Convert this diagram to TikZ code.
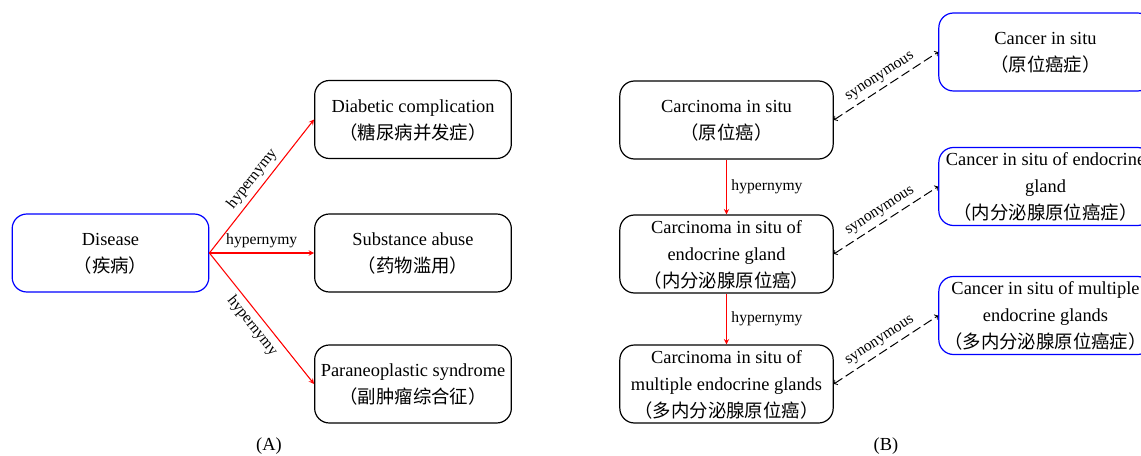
\documentclass[tikz,border=0pt]{standalone}
\usepackage{fontspec}
\setmainfont{Liberation Serif}
\newfontfamily\cjk{Noto Sans CJK SC}
\usetikzlibrary{arrows}

\begin{document}
\begin{tikzpicture}[x = 0.75pt, y = -0.75pt,
	box/.style = {draw, rounded corners = 11pt, line width = 0.9pt, align = center,
		minimum width = 147.5pt, minimum height = 58.5pt, inner sep = 0pt, text depth = 0pt,
		font = \fontsize{13.8}{20.25}\selectfont},
	wbox/.style = {box, minimum width = 160pt},
	bluebox/.style = {wbox, draw = blue},
	hyper/.style = {draw = red, line width = 0.8pt, -stealth},
	syn/.style = {draw = black, line width = 0.75pt, <->, dash pattern = on 7pt off 3pt},
	lbl/.style = {font = \fontsize{11.7}{14}\selectfont}]
	\useasboundingbox (0,0) rectangle (1141,456);

	% (A)
	\node[box, draw = blue] (disease) at (110.5,253) {Disease\\{\cjk （疾病）}};
	\node[box] (diabetic) at (413,119.5) {Diabetic complication\\{\cjk （糖尿病并发症）}};
	\node[box] (substance) at (413,253) {Substance abuse\\{\cjk （药物滥用）}};
	\node[box] (paraneo) at (413,384) {Paraneoplastic syndrome\\{\cjk （副肿瘤综合征）}};

	\draw[hyper] (disease.east) -- node[lbl, sloped, above]{hypernymy} (diabetic.west);
	\draw[hyper] (disease.east) -- node[lbl, above]{hypernymy} (substance.west);
	\draw[hyper] (disease.east) -- node[lbl, sloped, below]{hypernymy} (paraneo.west);

	\node[lbl, font = \fontsize{13.8}{16}\selectfont] (capA) at (269,446) {(A)};

	% (B)
	\node[wbox] (carcinoma) at (726.5,120) {Carcinoma in situ\\{\cjk （原位癌）}};
	\node[wbox] (carcEndo) at (726.5,254) {Carcinoma in situ of\\endocrine gland\\{\cjk （内分泌腺原位癌）}};
	\node[wbox] (carcMulti) at (726.5,384) {Carcinoma in situ of\\multiple endocrine glands\\{\cjk （多内分泌腺原位癌）}};

	\node[bluebox] (cancer) at (1045.5,52) {Cancer in situ\\{\cjk （原位癌症）}};
	\node[bluebox] (cancerEndo) at (1045.5,186.5) {Cancer in situ of endocrine\\gland\\{\cjk （内分泌腺原位癌症）}};
	\node[bluebox] (cancerMulti) at (1045.5,315.5) {Cancer in situ of multiple\\endocrine glands\\{\cjk （多内分泌腺原位癌症）}};

	\draw[hyper] (carcinoma.south) -- node[lbl, right]{hypernymy} (carcEndo.north);
	\draw[hyper] (carcEndo.south) -- node[lbl, right]{hypernymy} (carcMulti.north);

	\draw[syn] (carcinoma.east) -- node[lbl, sloped, above]{synonymous} (cancer.west);
	\draw[syn] (carcEndo.east) -- node[lbl, sloped, above]{synonymous} (cancerEndo.west);
	\draw[syn] (carcMulti.east) -- node[lbl, sloped, above]{synonymous} (cancerMulti.west);

	\node[lbl, font = \fontsize{13.8}{16}\selectfont] (capB) at (886,446) {(B)};
\end{tikzpicture}
\end{document}
